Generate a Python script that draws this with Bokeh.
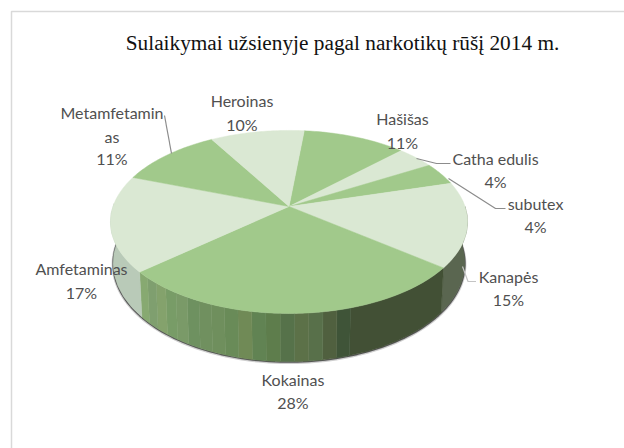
import numpy as np
from bokeh.plotting import figure
from bokeh.models import Range1d
from bokeh.core.properties import value
from bokeh.embed import file_html
from bokeh.resources import INLINE

title_text = "Sulaikymai užsienyje pagal narkotikų rūšį 2014 m."
categories = ["Hašišas", "Catha edulis", "subutex", "Kanapės", "Kokainas", "Amfetaminas", "Metamfetaminas", "Heroinas"]
percents = [11, 4, 4, 15, 28, 17, 11, 10]

# style / layout
LIGHT, MID = "#DAE8D3", "#A1C98B"
top_colors = [MID, LIGHT, MID, LIGHT, MID, LIGHT, MID, LIGHT]
START = 5.8
CX, CY, A, B, K = 288.5, 206, 88.9, 176, 0.169
WALL = 40
KOK_STRIPS = ["#87A971", "#7F9F6F", "#84A26C", "#789C67", "#7A9A68", "#6E9160", "#70905F", "#6F8F5D",
              "#698B58", "#708A56", "#618353", "#5E7D4C", "#56724A", "#5C7148", "#58704A", "#50603F",
              "#3F5438"]
WALL_FIXED = {"Kanapės": ["#5A6650"], "Amfetaminas": ["#B9CAB8"]}
WALL_DARK_END = "#425035"

labels = [
    (["Metamfetamin", "as", "11%"], 111.5, [112, 136, 158]),
    (["Heroinas", "10%"], 241.5, [100, 124]),
    (["Hašišas", "11%"], 402, [118, 142]),
    (["Catha edulis", "4%"], 495, [158, 181]),
    (["subutex", "4%"], 535, [203, 226]),
    (["Kanapės", "15%"], 508, [276, 299]),
    (["Kokainas", "28%"], 292.5, [379, 402]),
    (["Amfetaminas", "17%"], 81, [268, 292]),
]
leaders = [
    ([164, 171], [115, 153], "#8C8C8C"),
    ([416, 436, 450], [158, 163, 163], "#8C8C8C"),
    ([448, 495, 505], [178, 208, 208], "#8C8C8C"),
    ([462, 467.5, 475.5], [266, 281, 281], "#C4C4C4"),
]


def proj(deg):
    t = np.radians(np.asarray(deg, float))
    u, v = np.sin(t), np.cos(t)
    d = 1 + K * v
    return CX + B * u / d, CY - A * v / d, d


def rim_low(deg):
    x, y, d = proj(deg)
    return CX + (x - CX) * 0.985, y + WALL / d


edges = START + np.cumsum([0] + percents) * 3.6

p = figure(width=624, height=448, x_range=Range1d(0, 624), y_range=Range1d(448, 0),
           output_backend="svg", toolbar_location=None, min_border=0)
p.axis.visible = False
p.grid.visible = False
p.outline_line_color = None

# frame
p.line([11, 11, 624], [448, 11, 11], line_color="#D9D9D9", line_width=1.5)


def wall(a0, a1, colors):
    steps = np.linspace(a0, a1, len(colors) + 1)
    for i, c in enumerate(colors):
        th = np.linspace(steps[i], steps[i + 1], 8)
        x, y, _ = proj(th)
        xl, yl = rim_low(th)
        p.patch(np.r_[x, xl[::-1]], np.r_[y, yl[::-1]], fill_color=c, line_color=c, line_width=0.5)


# shadow under the wall
th = np.linspace(88, 272, 120)
xl, yl = rim_low(th)
p.line(xl, yl + 1, line_color="#BBBBBB", line_width=3, line_alpha=0.7)
p.line(xl, yl + 0.5, line_color="#555555", line_width=1.5)

# walls
wall(90, edges[4], WALL_FIXED["Kanapės"])
split = edges[4] + (edges[5] - edges[4]) * 0.345
wall(edges[4], split, [WALL_DARK_END])
wall(split, edges[5], KOK_STRIPS[::-1])
wall(edges[5], 272, WALL_FIXED["Amfetaminas"])

# top surface
for i, c in enumerate(top_colors):
    th = np.linspace(edges[i], edges[i + 1], 40)
    x, y, _ = proj(th)
    p.patch(np.r_[CX, x], np.r_[CY, y], fill_color=c, line_color=c, line_width=0.5)

# leaders
for lx, ly, c in leaders:
    p.line(lx, ly, line_color=c, line_width=1.2)

# labels
for lines, x, ys in labels:
    p.text([x] * len(lines), ys, text=lines, text_font=value("Lato"), text_font_size="16px",
           text_color="#505050", text_align="center", text_baseline="middle")

p.text([342], [42], text=[title_text], text_font=value("Liberation Serif"), text_font_size="21.3px",
       text_color="#111111", text_align="center", text_baseline="middle")

open("out.html", "w").write(file_html(p, INLINE))
